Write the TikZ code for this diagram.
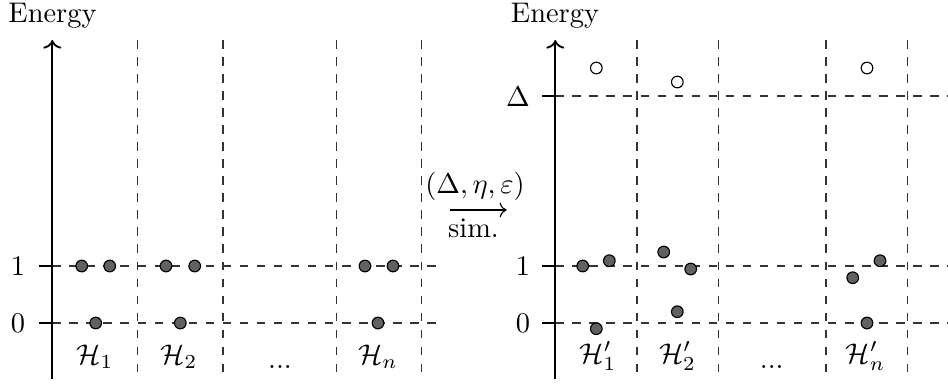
\documentclass[tikz,border=0pt]{standalone}
\usepackage{amsmath}
\usetikzlibrary{arrows.meta}
\begin{document}
\begin{tikzpicture}[x=0.35211pt,y=-0.35211pt,
  grid/.style={dashed, line width=0.4pt, black!80},
  axis/.style={line width=0.65pt},
  dot/.style={circle, draw=black, line width=0.4pt, fill=black!62, inner sep=0pt, minimum size=4.1pt},
  odot/.style={circle, draw=black, line width=0.4pt, fill=white, inner sep=0pt, minimum size=4.1pt},
  lbl/.style={inner sep=0pt, anchor=base},
  num/.style={inner sep=0pt}]
\useasboundingbox (0,0) rectangle (948,385);

% ---------- left panel ----------
\foreach \x in {137.6,223,336.7,421.7} \draw[grid] (\x,40) -- (\x,379);
\draw[grid] (52.3,266) -- (444,266);
\draw[grid] (52.3,323) -- (444,323);
\coordinate (LA0) at (52.3,379);
\coordinate (LA1) at (52.3,40);
\draw[axis,->] (LA0) -- (LA1);
\draw[axis] (39,266) -- (52.3,266);
\draw[axis] (39,323) -- (52.3,323);
\node[lbl] (LE) at (52.5,22.7) {Energy};
\node[num] (L1) at (18,266) {$1$};
\node[num] (L0) at (18,323) {$0$};
\node[lbl] (LH1) at (95,364) {$\mathcal{H}_1$};
\node[lbl] (LH2) at (179,364) {$\mathcal{H}_2$};
\node[lbl] (LHd) at (280,368) {...};
\node[lbl] (LHn) at (378,364) {$\mathcal{H}_n$};
\node[dot] (la1) at (81.7,266) {};
\node[dot] (la2) at (109.7,266) {};
\node[dot] (la3) at (95.7,323) {};
\node[dot] (lb1) at (166,266) {};
\node[dot] (lb2) at (194.7,266) {};
\node[dot] (lb3) at (180.3,323) {};
\node[dot] (lc1) at (365,266) {};
\node[dot] (lc2) at (393,266) {};
\node[dot] (lc3) at (378,323) {};

% ---------- middle arrow ----------
\node[lbl] (ML) at (475,193) {$(\Delta,\eta,\varepsilon)$};
\node[lbl] (MS) at (473.5,237) {sim.};
\coordinate (MA0) at (450,210);
\coordinate (MA1) at (506.7,210);
\draw[line width=0.4pt,->] (MA0) -- (MA1);

% ---------- right panel ----------
\foreach \x in {637,718.3,826,907.3} \draw[grid] (\x,40) -- (\x,379);
\draw[grid] (555.3,96) -- (948,96);
\draw[grid] (555.3,266) -- (948,266);
\draw[grid] (555.3,323) -- (948,323);
\coordinate (RA0) at (555.3,379);
\coordinate (RA1) at (555.3,40);
\draw[axis,->] (RA0) -- (RA1);
\draw[axis] (542,96) -- (555.3,96);
\draw[axis] (542,266) -- (555.3,266);
\draw[axis] (542,323) -- (555.3,323);
\node[lbl] (RE) at (555,22.7) {Energy};
\node[num] (RD) at (518,97) {$\Delta$};
\node[num] (R1) at (523,266) {$1$};
\node[num] (R0) at (523,323) {$0$};
\node[lbl] (RH1) at (598,363) {$\mathcal{H}'_1$};
\node[lbl] (RH2) at (677.5,363) {$\mathcal{H}'_2$};
\node[lbl] (RHd) at (771.7,368) {...};
\node[lbl] (RHn) at (865.5,363) {$\mathcal{H}'_n$};
\node[odot] (ro1) at (596.3,68) {};
\node[odot] (ro2) at (677.3,82) {};
\node[odot] (ro3) at (867,68) {};
\node[dot] (ra1) at (582.7,266) {};
\node[dot] (ra2) at (609.3,260.7) {};
\node[dot] (ra3) at (596.3,328.7) {};
\node[dot] (rb1) at (663.7,252) {};
\node[dot] (rb2) at (690.7,269) {};
\node[dot] (rb3) at (677.3,311.7) {};
\node[dot] (rc1) at (852.7,277.7) {};
\node[dot] (rc2) at (880,260.7) {};
\node[dot] (rc3) at (867,323) {};
\end{tikzpicture}
\end{document}
